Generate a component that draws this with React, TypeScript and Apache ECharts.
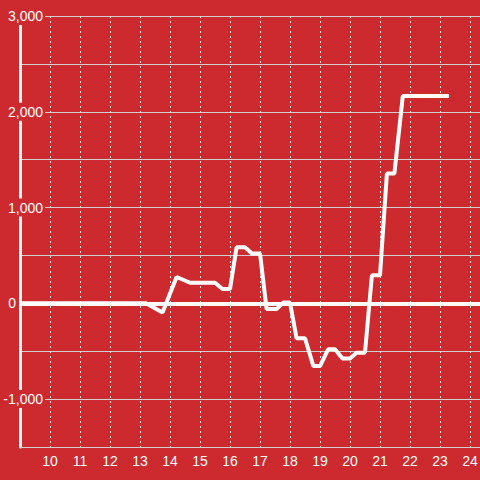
import React, { useEffect, useRef } from "react";
import * as echarts from "echarts";

const xValues = [9, 13.2, 13.75, 14.22, 14.67, 15.5, 15.75, 16.0, 16.22, 16.5, 16.73, 17.0, 17.22, 17.55, 17.78, 18.0, 18.22, 18.5, 18.78, 19.0, 19.27, 19.5, 19.75, 20.0, 20.22, 20.5, 20.73, 21.0, 21.23, 21.48, 21.76, 23.3];
const yValues = [0, 0, -95, 275, 215, 215, 150, 150, 585, 585, 520, 520, -60, -60, 8, 8, -365, -365, -655, -655, -480, -480, -575, -575, -515, -515, 292, 292, 1355, 1355, 2165, 2165];
const yTickLabels = [3000, 2000, 1000, 0, -1000];
const xTickLabels = [10, 11, 12, 13, 14, 15, 16, 17, 18, 19, 20, 21, 22, 23, 24];

export default function App() {
  const ref = useRef<HTMLDivElement>(null);
  useEffect(() => {
    if (!ref.current) return;
    const chart = echarts.init(ref.current, null, { renderer: "svg" });
    const data = xValues.map((x, i) => [x, yValues[i]]);
    chart.setOption({
      animation: false,
      backgroundColor: "#cc2a2e",
      grid: { left: 20, right: 0, top: 16, bottom: 33, containLabel: false, outerBoundsMode: "none" },
      xAxis: {
        type: "value",
        min: 9,
        max: 25,
        interval: 1,
        axisLine: { show: true, onZero: false, lineStyle: { color: "#d0d0d0", width: 1 } },
        axisTick: { show: false },
        splitLine: { show: true, lineStyle: { color: "#e0e0e0", width: 1, type: [2, 3] } },
        axisLabel: {
          color: "#ffffff",
          fontSize: 14,
          fontFamily: "Liberation Sans, Arial, sans-serif",
          margin: 7,
          formatter: (v: number) => (xTickLabels.indexOf(v) >= 0 ? String(v) : ""),
        },
      },
      yAxis: {
        type: "value",
        min: -1500,
        max: 3000,
        interval: 500,
        axisLine: { show: true, lineStyle: { color: "#f4f4f4", width: 3 } },
        axisTick: { show: false },
        splitLine: { show: true, lineStyle: { color: "#cfcfcf", width: 1 } },
        axisLabel: {
          inside: true,
          align: "right",
          margin: 25,
          color: "#ffffff",
          fontSize: 14,
          fontFamily: "Liberation Sans, Arial, sans-serif",
          formatter: (v: number) => {
            if (yTickLabels.indexOf(v) < 0) return "";
            if (v === 0) return "{z|0}";
            return "{a|" + v.toLocaleString("en-US") + "}";
          },
          rich: {
            a: {
              color: "#ffffff",
              fontSize: 14,
              lineHeight: 14,
              fontFamily: "Liberation Sans, Arial, sans-serif",
              backgroundColor: "#cc2a2e",
              padding: [2, 2, 2, 2],
            },
            z: {
              color: "#ffffff",
              fontSize: 14,
              lineHeight: 14,
              fontFamily: "Liberation Sans, Arial, sans-serif",
              padding: [0, 29, 0, 0],
            },
          },
        },
      },
      series: [
        {
          type: "line",
          data,
          showSymbol: false,
          symbol: "none",
          lineStyle: { color: "#ffffff", width: 4 },
          itemStyle: { color: "#ffffff" },
          markLine: {
            silent: true,
            symbol: ["none", "none"],
            label: { show: false },
            lineStyle: { color: "#ffffff", width: 4, type: "solid" },
            data: [{ yAxis: 0 }],
          },
        },
      ],
    });
    return () => chart.dispose();
  }, []);
  return (
    <div
      style={{
        position: "fixed",
        left: 0,
        top: 0,
        width: 480,
        height: 480,
        overflow: "hidden",
      }}
    >
      <div ref={ref} style={{ width: 500, height: 480 }} />
    </div>
  );
}
